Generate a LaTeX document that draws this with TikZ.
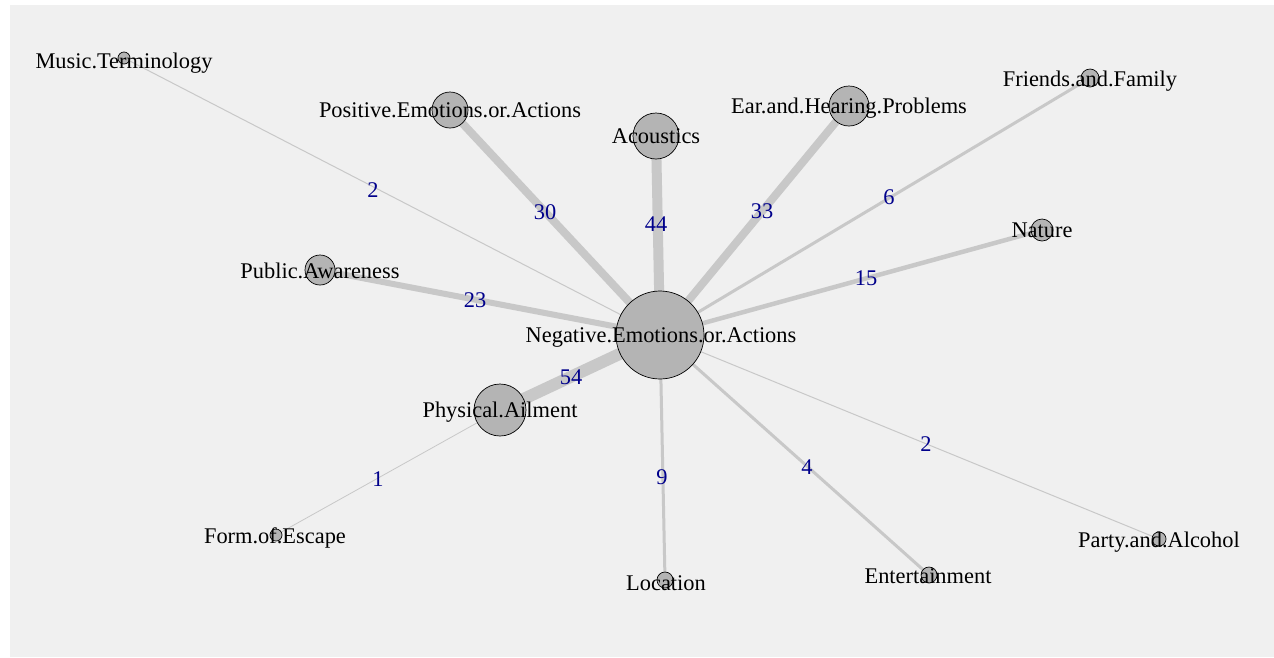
\documentclass[tikz,border=0pt]{standalone}
\usepackage{fontspec}
\setmainfont{Liberation Serif}
\definecolor{panel}{RGB}{240,240,240}
\definecolor{edgec}{RGB}{200,200,200}
\definecolor{vfill}{RGB}{180,180,180}
\definecolor{elabc}{RGB}{0,0,139}
\begin{document}
\begin{tikzpicture}[x=1pt,y=-1pt,
  vert/.style={circle,draw=black,line width=0.7pt,fill=vfill,inner sep=0pt,minimum size=#1},
  conn/.style={draw=edgec,line width=#1},
  vlab/.style={font=\fontsize{22.4}{22.4}\selectfont,text=black,anchor=base,inner sep=0pt},
  elab/.style={font=\fontsize{22.4}{22.4}\selectfont,text=elabc,anchor=base,inner sep=0pt}]
\useasboundingbox (0,0) rectangle (1274,657);
\fill[white] (0,0) rectangle (1274,657);
\fill[panel] (10,5) rectangle (1274,657);
% centres
\coordinate (neg) at (660,335);
\coordinate (aco) at (656,136);
\coordinate (pos) at (450,110);
\coordinate (ear) at (849,106);
\coordinate (fri) at (1090,78);
\coordinate (mus) at (124,58);
\coordinate (nat) at (1042,230);
\coordinate (pub) at (320,270);
\coordinate (phy) at (500,410);
\coordinate (esc) at (276,535);
\coordinate (loc) at (665,580);
\coordinate (ent) at (929,575);
\coordinate (par) at (1159,539);
% edges
\draw[conn=1pt] (neg) -- (mus);
\draw[conn=8pt] (neg) -- (pos);
\draw[conn=10pt] (neg) -- (aco);
\draw[conn=8pt] (neg) -- (ear);
\draw[conn=3pt] (neg) -- (fri);
\draw[conn=4.5pt] (neg) -- (nat);
\draw[conn=6pt] (neg) -- (pub);
\draw[conn=12pt] (neg) -- (phy);
\draw[conn=3pt] (neg) -- (loc);
\draw[conn=3pt] (neg) -- (ent);
\draw[conn=1pt] (neg) -- (par);
\draw[conn=0.8pt] (phy) -- (esc);
% vertices
\node[vert=88pt] (vneg) at (neg) {};
\node[vert=46pt] (vaco) at (aco) {};
\node[vert=36pt] (vpos) at (pos) {};
\node[vert=40pt] (vear) at (ear) {};
\node[vert=18pt] (vfri) at (fri) {};
\node[vert=12pt] (vmus) at (mus) {};
\node[vert=22pt] (vnat) at (nat) {};
\node[vert=30pt] (vpub) at (pub) {};
\node[vert=52pt] (vphy) at (phy) {};
\node[vert=12pt] (vesc) at (esc) {};
\node[vert=16pt] (vloc) at (loc) {};
\node[vert=16pt] (vent) at (ent) {};
\node[vert=14pt] (vpar) at (par) {};
% vertex labels
\node[vlab] (lneg) at (661,342.5) {Negative.Emotions.or.Actions};
\node[vlab] (laco) at (656,143.5) {Acoustics};
\node[vlab] (lpos) at (450,117.5) {Positive.Emotions.or.Actions};
\node[vlab] (lear) at (849,113.5) {Ear.and.Hearing.Problems};
\node[vlab] (lfri) at (1090,86.5) {Friends.and.Family};
\node[vlab] (lmus) at (124,68.5) {Music.Terminology};
\node[vlab] (lnat) at (1042,237.5) {Nature};
\node[vlab] (lpub) at (320,278.5) {Public.Awareness};
\node[vlab] (lphy) at (500,417.5) {Physical.Ailment};
\node[vlab] (lesc) at (275,543.5) {Form.of.Escape};
\node[vlab] (lloc) at (666,590.5) {Location};
\node[vlab] (lent) at (928,583.5) {Entertainment};
\node[vlab] (lpar) at (1159,547.5) {Party.and.Alcohol};
% edge labels
\node[elab] (e1) at (373,197.5) {2};
\node[elab] (e2) at (545,219.5) {30};
\node[elab] (e3) at (656,231.5) {44};
\node[elab] (e4) at (762,218.5) {33};
\node[elab] (e5) at (889,204.5) {6};
\node[elab] (e6) at (866,285.5) {15};
\node[elab] (e7) at (475,307.5) {23};
\node[elab] (e8) at (571,384.5) {54};
\node[elab] (e9) at (662,484.5) {9};
\node[elab] (e10) at (807,474.5) {4};
\node[elab] (e11) at (926,451.5) {2};
\node[elab] (e12) at (378,486.5) {1};
\end{tikzpicture}
\end{document}
